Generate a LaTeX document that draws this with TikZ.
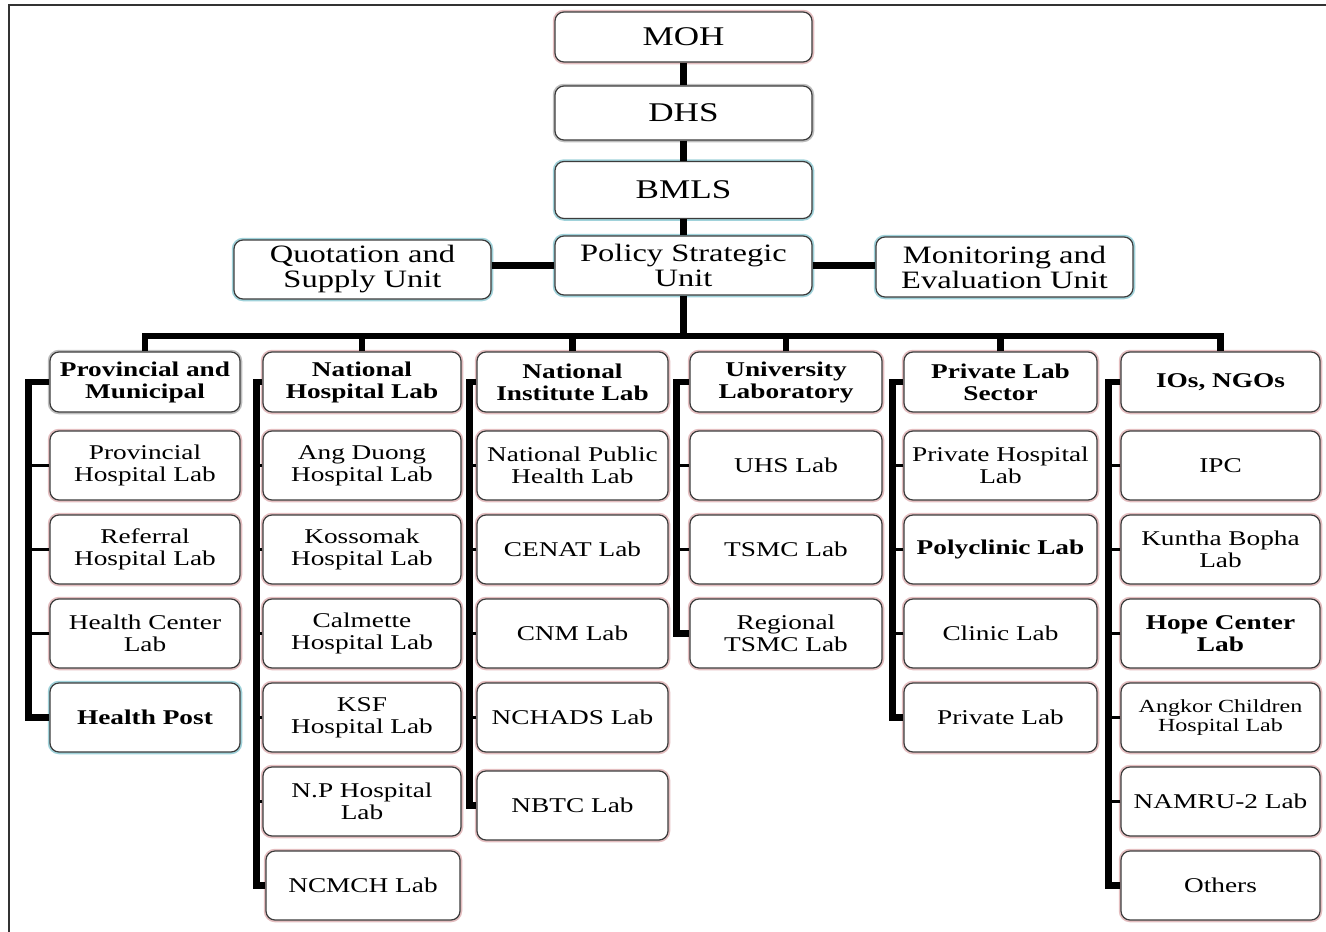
\documentclass[tikz,border=0pt]{standalone}
\usepackage{fontspec}
\setmainfont{Liberation Serif}[FakeStretch=1.3]
\definecolor{pinkt}{RGB}{228,190,192}
\definecolor{cyant}{RGB}{160,210,218}
\definecolor{grayt}{RGB}{190,190,190}
\definecolor{edge}{RGB}{60,60,60}
\tikzset{
  box/.style={rounded corners=9pt, draw=edge, line width=1.2pt, fill=white,
    inner sep=0pt, align=center, preaction={draw=#1, line width=4.5pt}},
  box/.default=pinkt,
  topbox/.style={box=#1, minimum width=257pt, font=\fontsize{27}{27}\selectfont},
  midbox/.style={box=#1, minimum width=257pt, minimum height=59pt, font=\fontsize{25}{25}\selectfont},
  headbox/.style={box=#1, minimum height=60pt, font=\fontsize{21}{22}\selectfont\bfseries},
  kidbox/.style={box=#1, minimum height=69pt, font=\fontsize{21}{22}\selectfont},
  boldkid/.style={font=\fontsize{21}{22}\selectfont\bfseries},
  conn/.style={draw=black, line width=6.5pt, line join=miter},
  stub/.style={draw=black, line width=3.5pt},
  frame/.style={draw=black!80, line width=2pt}
}
\begin{document}
\begin{tikzpicture}[x=1pt, y=-1pt]
\useasboundingbox (0,0) rectangle (1326,932);
\draw[frame] (1326,5) -- (9,5) -- (9,932);

% top chain
\node[topbox=pinkt, minimum height=50pt] (moh) at (683.5,37) {MOH};
\node[topbox=grayt, minimum height=54pt] (dhs) at (683.5,113) {DHS};
\node[topbox=cyant, minimum height=57pt] (bmls) at (683.5,190) {BMLS};
\node[midbox=cyant] (psu) at (683.5,265.5) {Policy Strategic\\Unit};
\node[midbox=cyant] (qsu) at (362.5,269.5) {Quotation and\\Supply Unit};
\node[midbox=cyant, minimum height=60pt] (meu) at (1004.5,267) {Monitoring and\\Evaluation Unit};

\draw[conn] (moh.south) -- (dhs.north);
\draw[conn] (dhs.south) -- (bmls.north);
\draw[conn] (bmls.south) -- (psu.north);
\draw[conn] (qsu.east |- psu.west) -- (psu.west);
\draw[conn] (psu.east) -- (meu.west |- psu.east);

% headers
\node[headbox=grayt, minimum width=190pt] (h1) at (145,382) {Provincial and\\Municipal};
\node[headbox=pinkt, minimum width=198pt] (h2) at (362,382) {National\\Hospital Lab};
\node[headbox=pinkt, minimum width=191pt] (h3) at (572.5,382) {National\\Institute Lab};
\node[headbox=pinkt, minimum width=192pt] (h4) at (786,382) {University\\Laboratory};
\node[headbox=pinkt, minimum width=193pt] (h5) at (1000.5,382) {Private Lab\\Sector};
\node[headbox=pinkt, minimum width=199pt] (h6) at (1220.5,382) {IOs, NGOs};

% bus
\coordinate (bus) at (683.5,336);
\draw[conn] (psu.south) -- (bus);
\draw[conn] (h1.north) -- (h1.north |- bus) -- (h6.north |- bus) -- (h6.north);
\foreach \h in {h2,h3,h4,h5} \draw[conn] (\h.north) -- (\h.north |- bus);

% column 1
\begin{scope}[every node/.append style={minimum width=190pt}]
\node[kidbox] (a1) at (145,465.5) {Provincial\\Hospital Lab};
\node[kidbox] (a2) at (145,549.5) {Referral\\Hospital Lab};
\node[kidbox] (a3) at (145,633.5) {Health Center\\Lab};
\node[kidbox=cyant, boldkid] (a4) at (145,717.5) {Health Post};
\end{scope}
\draw[conn] (h1.west) -- ++(-21,0) |- (a4.west);
\foreach \n in {a1,a2,a3} \draw[stub] (\n.west) -- ++(-21,0);

% column 2
\begin{scope}[every node/.append style={minimum width=198pt}]
\node[kidbox] (b1) at (362,465.5) {Ang Duong\\Hospital Lab};
\node[kidbox] (b2) at (362,549.5) {Kossomak\\Hospital Lab};
\node[kidbox] (b3) at (362,633.5) {Calmette\\Hospital Lab};
\node[kidbox] (b4) at (362,717.5) {KSF\\Hospital Lab};
\node[kidbox] (b5) at (362,801.5) {N.P Hospital\\Lab};
\node[kidbox, minimum width=194pt] (b6) at (363,885.5) {NCMCH Lab};
\end{scope}
\draw[conn] (h2.west) -- ++(-6,0) |- (b6.west);
\foreach \n in {b1,b2,b3,b4,b5} \draw[stub] (\n.west) -- ++(-6,0);

% column 3
\begin{scope}[every node/.append style={minimum width=191pt}]
\node[kidbox] (c1) at (572.5,465.5) {National Public\\Health Lab};
\node[kidbox] (c2) at (572.5,549.5) {CENAT Lab};
\node[kidbox] (c3) at (572.5,633.5) {CNM Lab};
\node[kidbox] (c4) at (572.5,717.5) {NCHADS Lab};
\node[kidbox] (c5) at (572.5,805.5) {NBTC Lab};
\end{scope}
\draw[conn] (h3.west) -- ++(-7,0) |- (c5.west);
\foreach \n in {c1,c2,c3,c4} \draw[stub] (\n.west) -- ++(-7,0);

% column 4
\begin{scope}[every node/.append style={minimum width=192pt}]
\node[kidbox] (d1) at (786,465.5) {UHS Lab};
\node[kidbox] (d2) at (786,549.5) {TSMC Lab};
\node[kidbox] (d3) at (786,633.5) {Regional\\TSMC Lab};
\end{scope}
\draw[conn] (h4.west) -- ++(-13,0) |- (d3.west);
\foreach \n in {d1,d2} \draw[stub] (\n.west) -- ++(-13,0);

% column 5
\begin{scope}[every node/.append style={minimum width=193pt}]
\node[kidbox] (e1) at (1000.5,465.5) {Private Hospital\\Lab};
\node[kidbox, boldkid] (e2) at (1000.5,549.5) {Polyclinic Lab};
\node[kidbox] (e3) at (1000.5,633.5) {Clinic Lab};
\node[kidbox] (e4) at (1000.5,717.5) {Private Lab};
\end{scope}
\draw[conn] (h5.west) -- ++(-11,0) |- (e4.west);
\foreach \n in {e1,e2,e3} \draw[stub] (\n.west) -- ++(-11,0);

% column 6
\begin{scope}[every node/.append style={minimum width=199pt}]
\node[kidbox] (f1) at (1220.5,465.5) {IPC};
\node[kidbox] (f2) at (1220.5,549.5) {Kuntha Bopha\\Lab};
\node[kidbox, boldkid] (f3) at (1220.5,633.5) {Hope Center\\Lab};
\node[kidbox, font=\fontsize{18.5}{19}\selectfont] (f4) at (1220.5,717.5) {Angkor Children\\Hospital Lab};
\node[kidbox] (f5) at (1220.5,801.5) {NAMRU-2 Lab};
\node[kidbox] (f6) at (1220.5,885.5) {Others};
\end{scope}
\draw[conn] (h6.west) -- ++(-12,0) |- (f6.west);
\foreach \n in {f1,f2,f3,f4,f5} \draw[stub] (\n.west) -- ++(-12,0);
\end{tikzpicture}
\end{document}
